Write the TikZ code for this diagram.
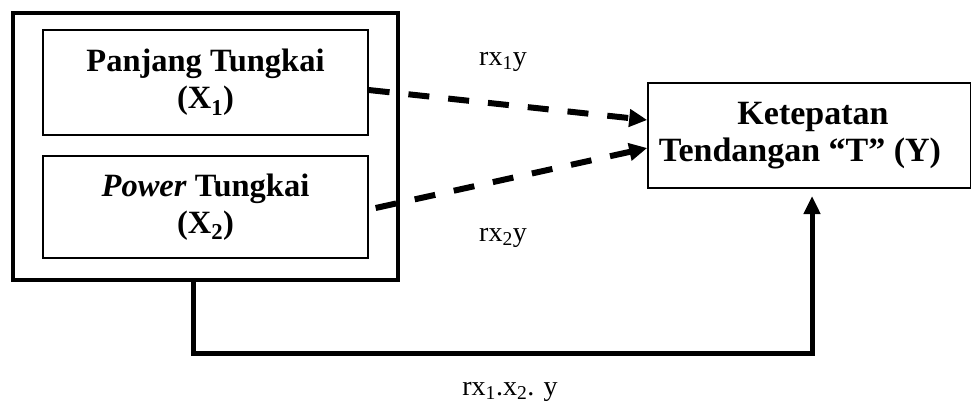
\documentclass[tikz,border=0pt]{standalone}
\usepackage{fontspec}
\setmainfont{Liberation Serif}
\usetikzlibrary{arrows.meta,calc}
\begin{document}
\begin{tikzpicture}[x=1pt,y=-1pt,
  varbox/.style={draw,line width=1.3pt,inner sep=0pt,align=center,font=\fontsize{32.5}{37}\selectfont\bfseries},
  groupbox/.style={draw,line width=4.5pt,inner sep=0pt},
  lbl/.style={font=\fontsize{28}{32}\selectfont,inner sep=0pt},
  dasharrow/.style={line width=6pt,dash pattern=on 21pt off 19pt,-{Triangle[length=18pt,width=17pt]}},
  solidarrow/.style={line width=5pt,-{Triangle[length=18pt,width=16pt]}}]
\useasboundingbox (0,0) rectangle (971,414);
\node[groupbox,minimum width=385pt,minimum height=267pt] (outer) at (205.5,146.5) {};
\node[varbox,minimum width=325pt,minimum height=105pt] (p1) at (205.5,82.5) {Panjang Tungkai\\(X\textsubscript{1})};
\node[varbox,minimum width=325pt,minimum height=102pt] (p2) at (205.5,207) {\textit{Power} Tungkai\\(X\textsubscript{2})};
\node[varbox,line width=1.6pt,minimum width=323pt,minimum height=105pt,font=\fontsize{34}{37}\selectfont\bfseries] (y) at (809.5,135.5) {\hspace*{7pt}Ketepatan\\\hspace*{-19pt}Tendangan “T” (Y)};
\coordinate (s1) at ($(p1.east)+(0,7.5)$);
\coordinate (e1) at ($(y.west)+(0,-15.5)$);
\coordinate (s2) at ($(p2.east)+(7,1)$);
\coordinate (e2) at ($(y.west)+(0,12.5)$);
\draw[dasharrow] (s1) -- (e1);
\draw[dasharrow] (s2) -- (e2);
\coordinate (b1) at (193,280);
\coordinate (b2) at (193,353);
\coordinate (b3) at (812,353);
\coordinate (t) at (812,196);
\draw[solidarrow] (b1) -- (b2) -- (b3) -- (t);
\node[lbl] (l1) at (503,62) {rx\textsubscript{1}y};
\node[lbl] (l2) at (503,238) {rx\textsubscript{2}y};
\node[lbl] (l3) at (510,392) {rx\textsubscript{1}.x\textsubscript{2}. y};
\end{tikzpicture}
\end{document}
